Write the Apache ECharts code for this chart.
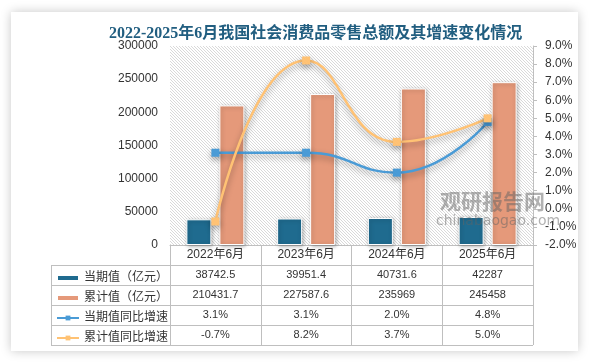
<!DOCTYPE html>
<html><head><meta charset="utf-8">
<script src="https://cdn.jsdelivr.net/npm/echarts@6/dist/echarts.min.js"></script>
<style>
html,body{margin:0;padding:0;background:#fff;}
#panel{position:absolute;left:11px;top:12px;width:567px;height:339px;background:#fff;box-shadow:0 0 10px rgba(0,0,0,0.22);}
#hatch{position:absolute;background-repeat:repeat;}
#c{position:absolute;left:0;top:0;width:590px;height:362px;}
</style>
</head><body><div id="panel"></div><div id="hatch"></div><div id="c"></div>
<script>
// ---- data ----
const categories = ['2022年6月', '2023年6月', '2024年6月', '2025年6月'];
const currentValue = [38742.5, 39951.4, 40731.6, 42287];          // 当期值（亿元）
const cumulativeValue = [210431.7, 227587.6, 235969, 245458];     // 累计值（亿元）
const currentGrowth = [3.1, 3.1, 2.0, 4.8];                       // 当期值同比增速 %
const cumulativeGrowth = [-0.7, 8.2, 3.7, 5.0];                   // 累计值同比增速 %
const seriesNames = ['当期值（亿元）', '累计值（亿元）', '当期值同比增速', '累计值同比增速'];
const leftAxisTicks = { min: 0, max: 300000, interval: 50000 };
const rightAxisTicks = { min: -2, max: 9, interval: 1 };
const titleText = '2022-2025年6月我国社会消费品零售总额及其增速变化情况';

// ---- layout ----
const W = 590, H = 362;
const GL = 170, GR = 57, GT = 46, GB = 117;
const ROW = 20, TABLE_LEFT = 51, NROWS = 4;
const axisY = H - GB, plotRight = W - GR;

// pixel-exact hatch tile behind the plot area
const TILE = 3;
const pc = document.createElement('canvas'); pc.width = TILE; pc.height = TILE;
const g = pc.getContext('2d');
g.fillStyle = '#ffffff'; g.fillRect(0, 0, TILE, TILE);
g.fillStyle = '#d9d9d9';
for (let i = 0; i < TILE; i++) g.fillRect(i, i, 1, 1);
const hatch = document.getElementById('hatch');
hatch.style.left = GL + 'px'; hatch.style.top = GT + 'px';
hatch.style.width = (W - GL - GR) + 'px'; hatch.style.height = (H - GT - GB) + 'px';
hatch.style.backgroundImage = 'url(' + pc.toDataURL() + ')';

const COLORS = { cur: '#1f6b8f', cum: '#e5997a', curG: '#4a9bd6', cumG: '#ffc274' };
const FONT = "'Liberation Sans', 'Noto Sans CJK SC', sans-serif";

const pct = v => v.toFixed(1) + '%';

// table graphic lines
const tableLines = [];
for (let k = 1; k <= NROWS + 1; k++) {
  const y = axisY + ROW * k + 0.5;
  tableLines.push({ type: 'line', shape: { x1: TABLE_LEFT, y1: y, x2: plotRight, y2: y }, style: { stroke: '#bfbfbf', lineWidth: 1 } });
}
tableLines.push({ type: 'line', shape: { x1: TABLE_LEFT + 0.5, y1: axisY + ROW, x2: TABLE_LEFT + 0.5, y2: axisY + ROW * (NROWS + 1) }, style: { stroke: '#bfbfbf', lineWidth: 1 } });

// one legend per table row
const legendIcons = ['rect', 'rect', undefined, undefined];
const legends = seriesNames.map((name, k) => ({
  orient: 'vertical', left: 56, top: axisY + ROW * (k + 1) + ROW / 2 - 3,
  itemWidth: 22, itemHeight: 6, padding: 0, selectedMode: false,
  textStyle: { fontSize: 12, color: '#333', fontFamily: FONT },
  data: [legendIcons[k] ? { name, icon: legendIcons[k] } : { name }]
}));

const chart = echarts.init(document.getElementById('c'), null, { renderer: 'canvas' });
chart.setOption({
  backgroundColor: 'transparent',
  animation: false,
  textStyle: { fontFamily: FONT },
  title: {
    text: titleText, left: 109, top: 26, padding: 0,
    textStyle: { fontFamily: "'Liberation Serif', 'Noto Sans CJK SC', serif", fontWeight: 'bold', fontSize: 16, color: '#215e80' }
  },
  legend: legends,
  grid: { left: GL, right: GR, top: GT, bottom: GB, show: false },
  xAxis: {
    type: 'category', data: categories,
    axisLine: { lineStyle: { color: '#bfbfbf' } },
    axisTick: { show: true, length: ROW * (NROWS + 1), lineStyle: { color: '#bfbfbf' } },
    axisLabel: {
      margin: 0, interval: 0,
      formatter: (v, i) => '{c|' + v + '}\n{v|' + currentValue[i] + '}\n{v|' + cumulativeValue[i] + '}\n{v|' + pct(currentGrowth[i]) + '}\n{v|' + pct(cumulativeGrowth[i]) + '}',
      rich: {
        c: { fontSize: 12, lineHeight: ROW, color: '#333', fontFamily: FONT },
        v: { fontSize: 11, lineHeight: ROW, color: '#333', fontFamily: FONT }
      }
    }
  },
  yAxis: [
    {
      type: 'value', min: leftAxisTicks.min, max: leftAxisTicks.max, interval: leftAxisTicks.interval,
      axisLine: { show: false }, axisTick: { show: false }, splitLine: { show: false },
      axisLabel: { color: '#333', fontSize: 12, margin: 12, formatter: v => String(v) }
    },
    {
      type: 'value', position: 'right', min: rightAxisTicks.min, max: rightAxisTicks.max, interval: rightAxisTicks.interval,
      axisLine: { show: true, lineStyle: { color: '#bfbfbf' } },
      axisTick: { show: true, length: 4, lineStyle: { color: '#bfbfbf' } },
      splitLine: { show: false },
      axisLabel: { color: '#333', fontSize: 12, margin: 12, formatter: v => pct(v) }
    }
  ],
  series: [
    {
      name: seriesNames[0], type: 'bar', data: currentValue, barWidth: 25, barGap: '32%',
      itemStyle: { color: COLORS.cur, borderColor: '#fff', borderWidth: 1, shadowBlur: 4, shadowColor: 'rgba(0,0,0,0.3)', shadowOffsetX: 1, shadowOffsetY: 1 }
    },
    {
      name: seriesNames[1], type: 'bar', data: cumulativeValue, barWidth: 25,
      itemStyle: { color: COLORS.cum, borderColor: '#fff', borderWidth: 1, shadowBlur: 4, shadowColor: 'rgba(0,0,0,0.3)', shadowOffsetX: 1, shadowOffsetY: 1 }
    },
    {
      name: seriesNames[2], type: 'line', yAxisIndex: 1, data: currentGrowth, smooth: 0.5,
      symbol: 'rect', symbolSize: 8,
      lineStyle: { width: 2.5, color: COLORS.curG, shadowBlur: 6, shadowColor: 'rgba(0,0,0,0.35)', shadowOffsetY: 3 },
      itemStyle: { color: COLORS.curG, shadowBlur: 6, shadowColor: 'rgba(0,0,0,0.35)', shadowOffsetY: 3 }
    },
    {
      name: seriesNames[3], type: 'line', yAxisIndex: 1, data: cumulativeGrowth, smooth: 0.5,
      symbol: 'rect', symbolSize: 8,
      lineStyle: { width: 2.5, color: COLORS.cumG, shadowBlur: 6, shadowColor: 'rgba(0,0,0,0.35)', shadowOffsetY: 3 },
      itemStyle: { color: COLORS.cumG, shadowBlur: 6, shadowColor: 'rgba(0,0,0,0.35)', shadowOffsetY: 3 }
    }
  ],
  graphic: [
    ...tableLines,
    { type: 'text', left: 440, top: 191, z: 100, style: { text: '观研报告网', font: "bold 21px 'Noto Sans CJK SC', sans-serif", fill: 'rgba(100,100,100,0.5)' } },
    { type: 'text', left: 436, top: 214, z: 100, style: { text: 'chinabaogao.com', font: "14px 'DejaVu Sans', sans-serif", fill: 'rgba(100,100,100,0.5)' } }
  ]
});
</script>
</body></html>
